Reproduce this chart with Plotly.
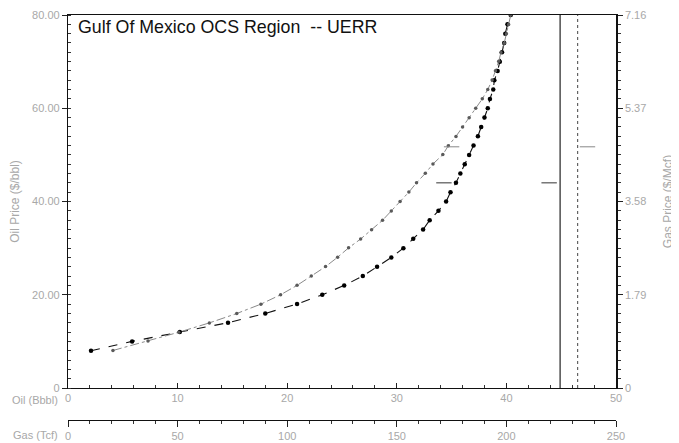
import plotly.graph_objects as go

# ---- data ----
oil_price = [8, 10, 12, 14, 16, 18, 20, 22, 24, 26, 28, 30, 32, 34, 36, 38, 40, 42, 44, 46,
             48, 50, 52, 54, 56, 58, 60, 62, 64, 66, 68, 70, 72, 74, 76, 78, 80]
oil_bbbl = [2.1, 5.85, 10.2, 14.6, 18.0, 20.9, 23.2, 25.2, 26.9, 28.2, 29.5, 30.6, 31.5, 32.4,
            33.0, 33.8, 34.5, 34.9, 35.4, 35.8, 36.2, 36.6, 37.0, 37.4, 37.7, 38.0, 38.3, 38.5,
            38.8, 38.9, 39.2, 39.4, 39.6, 39.8, 39.9, 40.1, 40.4]

gas_price = [0.72, 0.90, 1.07, 1.25, 1.43, 1.61, 1.79, 1.97, 2.15, 2.33, 2.51, 2.69, 2.86, 3.04,
             3.22, 3.40, 3.58, 3.76, 3.94, 4.12, 4.30, 4.48, 4.65, 4.83, 5.01, 5.19, 5.37, 5.55,
             5.73, 5.91, 6.09, 6.27, 6.44, 6.62, 6.80, 6.98, 7.16]
gas_tcf = [20.5, 36.5, 50.5, 64.5, 77.0, 88.0, 97.0, 104.5, 111.0, 117.5, 123.0, 128.0, 133.5,
           138.5, 143.5, 147.5, 151.5, 155.5, 159.0, 163.0, 166.5, 171.0, 173.5, 177.0, 180.0,
           183.0, 186.0, 189.0, 191.5, 193.5, 195.0, 196.5, 197.5, 199.0, 200.0, 201.0, 202.0]

oil_mean_bbbl = [44.9, 44.9]
oil_line_price = [0, 80]
gas_mean_tcf = [232.5, 232.5]
gas_line_price = [0, 7.16]

oil_mark_x = [34.3, 43.9]
oil_mark_y = [44, 44]
gas_mark_x = [175, 237]
gas_mark_y = [4.63, 4.63]

oil_ticks = [0, 10, 20, 30, 40, 50]
gas_ticks = [0, 50, 100, 150, 200, 250]
oil_price_ticks = [0, 20, 40, 60, 80]
oil_price_labels = ["0", "20.00", "40.00", "60.00", "80.00"]
gas_price_ticks = [0, 1.79, 3.58, 5.37, 7.16]
gas_price_labels = ["0", "1.79", "3.58", "5.37", "7.16"]
gas_price_minor = [0.179 * i for i in range(41)]

title_text = "Gulf Of Mexico OCS Region  -- UERR"

# ---- figure ----
FONT = "Liberation Sans, Arial, sans-serif"
LBL = "#a8a8a8"

fig = go.Figure()

fig.add_trace(go.Scatter(
    x=oil_mean_bbbl, y=oil_line_price, mode="lines",
    line=dict(color="#222222", width=1.2), xaxis="x", yaxis="y", showlegend=False))
fig.add_trace(go.Scatter(
    x=gas_mean_tcf, y=gas_line_price, mode="lines",
    line=dict(color="#555555", width=1.1, dash="dot"), xaxis="x2", yaxis="y2", showlegend=False))

fig.add_trace(go.Scatter(
    x=gas_tcf, y=gas_price, mode="lines+markers",
    line=dict(color="#8a8a8a", width=1, dash="dashdot"),
    marker=dict(color="#5a5a5a", size=3.5),
    xaxis="x2", yaxis="y2", showlegend=False))
fig.add_trace(go.Scatter(
    x=oil_bbbl, y=oil_price, mode="lines+markers",
    line=dict(color="#111111", width=1.1, dash="dash"),
    marker=dict(color="#000000", size=4.5),
    xaxis="x", yaxis="y", showlegend=False))

fig.add_trace(go.Scatter(
    x=oil_mark_x, y=oil_mark_y, mode="markers",
    marker=dict(symbol="line-ew", size=11, line=dict(color="#333333", width=1)),
    xaxis="x", yaxis="y", showlegend=False))
fig.add_trace(go.Scatter(
    x=gas_mark_x, y=gas_mark_y, mode="markers",
    marker=dict(symbol="line-ew", size=11, line=dict(color="#888888", width=1)),
    xaxis="x2", yaxis="y2", showlegend=False))

ydom0 = 32 / 405

fig.update_layout(
    width=679, height=443,
    margin=dict(l=60, r=71, t=7, b=31, autoexpand=False),
    paper_bgcolor="white", plot_bgcolor="white",
    font=dict(family=FONT, size=11, color=LBL),
    xaxis=dict(
        range=[0, 50], tickvals=oil_ticks, ticktext=[str(v) for v in oil_ticks],
        showgrid=False, zeroline=False, showline=True, linecolor="#111111", linewidth=1.3,
        mirror=True, ticks="inside", ticklen=5, tickcolor="#222222",
        minor=dict(dtick=2, ticks="inside", ticklen=3, tickcolor="#333333"),
        tickfont=dict(color=LBL, size=11), anchor="y", domain=[0, 1], automargin=False),
    xaxis2=dict(
        range=[0, 250], tickvals=gas_ticks, ticktext=[str(v) for v in gas_ticks],
        showgrid=False, zeroline=False, showline=True, linecolor="#111111", linewidth=1.3,
        ticks="outside", ticklen=6, tickcolor="#222222",
        minor=dict(dtick=10, ticks="outside", ticklen=3, tickcolor="#333333"),
        tickfont=dict(color=LBL, size=11),
        overlaying="x", anchor="free", position=0, side="bottom", domain=[0, 1],
        automargin=False),
    yaxis=dict(
        range=[0, 80], tickvals=oil_price_ticks, ticktext=oil_price_labels,
        showgrid=False, zeroline=False, showline=True, linecolor="#111111", linewidth=1.3,
        ticks="outside", ticklen=5, tickcolor="#222222",
        minor=dict(dtick=2, ticks="inside", ticklen=3, tickcolor="#333333"),
        tickfont=dict(color=LBL, size=11),
        title=dict(text="Oil Price ($/bbl)", font=dict(color=LBL, size=12), standoff=14),
        domain=[ydom0, 1], anchor="x", automargin=False),
    yaxis2=dict(
        range=[0, 7.16], tickvals=gas_price_ticks, ticktext=gas_price_labels,
        showgrid=False, zeroline=False, showline=True, linecolor="#111111", linewidth=1.5,
        ticks="outside", ticklen=5, tickcolor="#222222",
        minor=dict(tickvals=gas_price_minor, ticks="outside", ticklen=3, tickcolor="#333333"),
        tickfont=dict(color=LBL, size=11),
        title=dict(text="Gas Price ($/Mcf)", font=dict(color=LBL, size=12), standoff=18),
        overlaying="y", side="right", anchor="x", domain=[ydom0, 1], automargin=False),
    annotations=[
        dict(text=title_text, xref="paper", yref="paper", x=0.015, y=1.0,
             xanchor="left", yanchor="top", showarrow=False,
             font=dict(family=FONT, size=17.8, color="#111111")),
        dict(text="Oil (Bbbl)", xref="paper", yref="paper", x=0, y=ydom0,
             xanchor="right", yanchor="top", xshift=-8, yshift=-4, showarrow=False,
             font=dict(color=LBL, size=11)),
        dict(text="Gas (Tcf)", xref="paper", yref="paper", x=0, y=0,
             xanchor="right", yanchor="top", xshift=-8, yshift=-7, showarrow=False,
             font=dict(color=LBL, size=11)),
    ],
)

fig.write_html("out.html")
